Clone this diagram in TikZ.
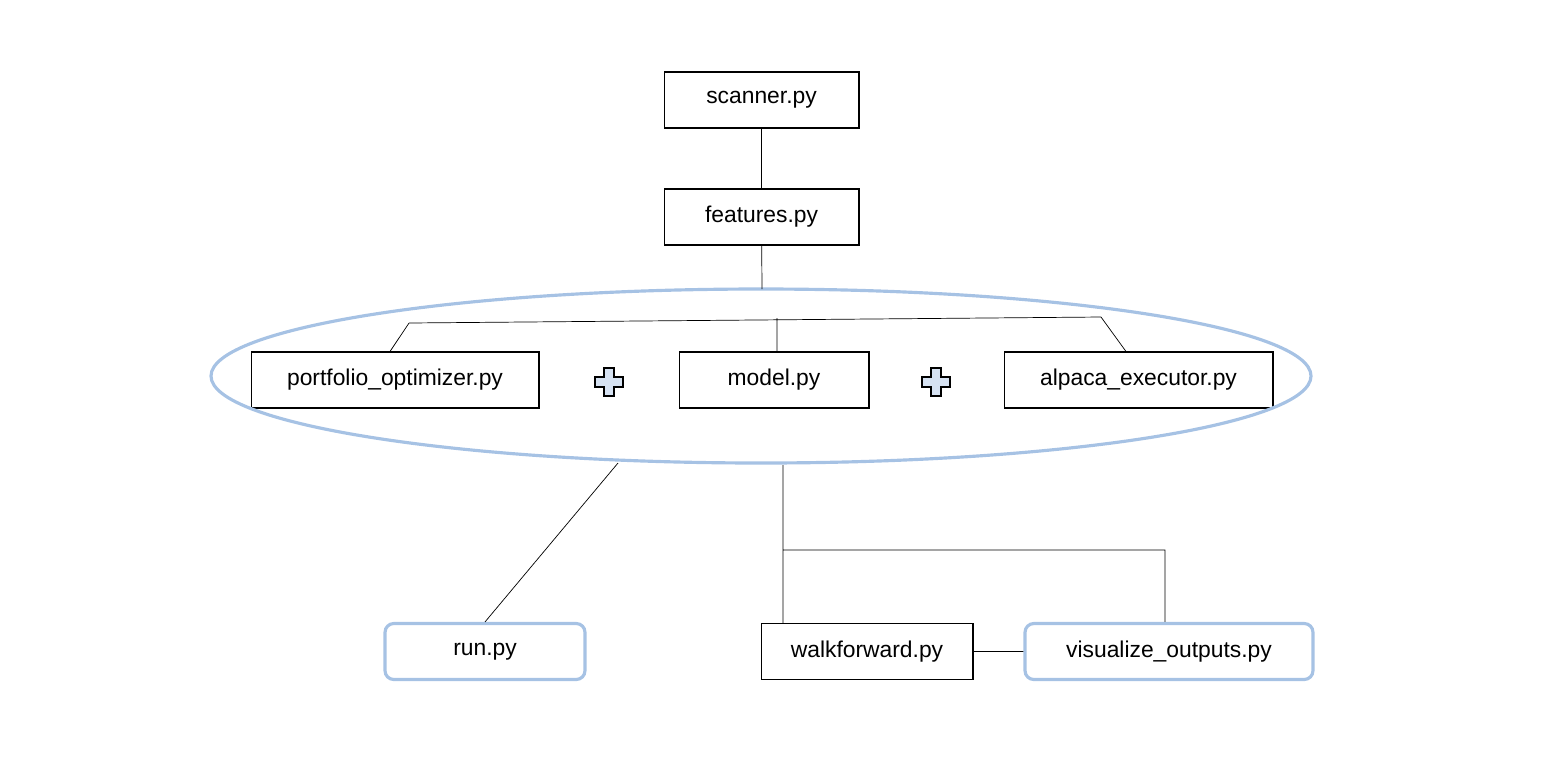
\documentclass[tikz,border=0pt]{standalone}
\usepackage{fontspec}
\setmainfont{Liberation Sans}
\usetikzlibrary{positioning,calc}
\definecolor{ringblue}{RGB}{166,194,228}
\definecolor{plusfill}{RGB}{214,226,242}
\newcommand{\plusmark}[1]{%
  \draw[fill=plusfill,line width=0.8pt,shift={#1}] (-5,-14) -- (5,-14) -- (5,-5) -- (14,-5) -- (14,5) -- (5,5) -- (5,14) -- (-5,14) -- (-5,5) -- (-14,5) -- (-14,-5) -- (-5,-5) -- cycle;}
\begin{document}
\begin{tikzpicture}[x=0.02cm,y=-0.02cm,semithick,font=\fontsize{13}{15}\selectfont]
  \tikzstyle{every node}=[text=black]
  \tikzstyle{file}=[draw, minimum height=1.12cm, inner sep=0pt]
  \tikzstyle{entry}=[draw=ringblue, line width=1.8pt, rounded corners=5pt, minimum height=1.12cm, inner sep=0pt]
  \useasboundingbox (0,0) rectangle (1548,762);
  \node[file, minimum width=3.9cm]  (S) at (761.5,100) {scanner.py};
  \node[file, minimum width=3.9cm]  (F) at (761.5,217) {features.py};
  \node[file, minimum width=5.76cm] (P) at (395,380)   {portfolio\_optimizer.py};
  \node[file, minimum width=3.8cm]  (M) at (774,380)   {model.py};
  \node[file, minimum width=5.38cm] (A) at (1138.5,380) {alpaca\_executor.py};
  \node[entry, minimum width=4cm]   (R) at (485,651.5) {run.py};
  \node[file, minimum width=4.24cm] (W) at (867,651.5) {walkforward.py};
  \node[entry, minimum width=5.76cm] (V) at (1169,651.5) {visualize\_outputs.py};
  \draw[draw=ringblue, line width=1.8pt] (761,376) ellipse [x radius=550, y radius=87];
  \plusmark{(609,382)}
  \plusmark{(936,382)}
  \coordinate (ftop) at (762,289);
  \coordinate (bl) at (409,323);
  \coordinate (br) at (1101,317);
  \coordinate (bm) at (777,318);
  \coordinate (rtop) at (618,463);
  \coordinate (wtop) at (783,465);
  \coordinate (wmid) at (783,550);
  \coordinate (vmid) at (1165,550);
  \path[draw, thin]
  (S) -- (F)
  (F) -- (ftop)
  (bl) -- (br)
  (bl) -- (P.north -| 390,0)
  (bm) -- (M.north -| bm)
  (br) -- (A.north -| 1126,0)
  (rtop) -- (R.north)
  (wtop) -- (W.north -| wtop)
  (wmid) -- (vmid) -- (V.north -| vmid)
  (W) -- (V);
\end{tikzpicture}
\end{document}
